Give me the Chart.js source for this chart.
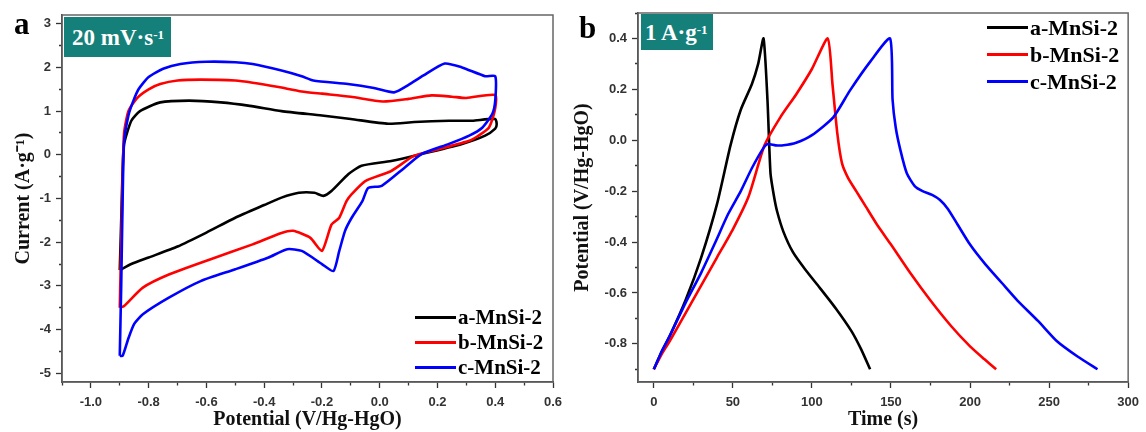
<!DOCTYPE html>
<html>
<head>
<meta charset="utf-8">
<script src="https://cdn.jsdelivr.net/npm/chart.js@4.4.1/dist/chart.umd.min.js"></script>
<style>
  body { margin: 0; background: #fff; }
  #wrap { position: relative; width: 1146px; height: 432px; overflow: hidden; background: #fff; }
  canvas { position: absolute; top: 0; }
  .serif { font-family: 'Liberation Serif', 'Times New Roman', serif; font-weight: bold; position: absolute; }
  .tag { background: #15807a; color: #fff; font-size: 23px; line-height: 1; display: flex; align-items: center; box-sizing: border-box; padding-left: 8px; }
  .tag sup { font-size: 13px; position: relative; top: -3px; }
  .panel { font-size: 31px; line-height: 1; }
  .leg { font-size: 21px; line-height: 1; }
  .leg .row { display: flex; align-items: center; height: 25px; }
  .leg .ln { display: inline-block; width: 41px; height: 3px; margin-right: 2px; }
</style>
</head>
<body>
<div id="wrap">
  <canvas id="cv" width="570" height="432" style="left:0"></canvas>
  <canvas id="gcd" width="576" height="432" style="left:570px"></canvas>

  <div class="serif panel" style="left:14px; top:8px;">a</div>
  <div class="serif panel" style="left:579px; top:12px;">b</div>
  <div class="serif tag" style="left:64px; top:17px; width:107px; height:40px;">20 mV·s<sup>-1</sup></div>
  <div class="serif tag" style="left:641px; top:14px; width:72px; height:36px; padding-left:4px;">1 A·g<sup>-1</sup></div>

  <div class="serif leg" style="left:415px; top:305px;">
    <div class="row"><span class="ln" style="background:#000"></span>a-MnSi-2</div>
    <div class="row"><span class="ln" style="background:#f00"></span>b-MnSi-2</div>
    <div class="row"><span class="ln" style="background:#00f"></span>c-MnSi-2</div>
  </div>
  <div class="serif leg" style="left:987px; top:14px; font-size:22px;">
    <div class="row" style="height:27px"><span class="ln" style="background:#000"></span>a-MnSi-2</div>
    <div class="row" style="height:27px"><span class="ln" style="background:#f00"></span>b-MnSi-2</div>
    <div class="row" style="height:27px"><span class="ln" style="background:#00f"></span>c-MnSi-2</div>
  </div>
</div>
<script>
// --- (a) CV at 20 mV/s : potential (V) / current (A/g), loop order ---
const cvV_a = [-0.9, -0.895, -0.89, -0.885, -0.86, -0.83, -0.76, -0.66, -0.55, -0.45, -0.34, -0.2, -0.1, 0.03, 0.12, 0.24, 0.32, 0.4,
  0.405, 0.4, 0.365, 0.285, 0.146, 0.04, -0.063, -0.108, -0.167, -0.195, -0.226, -0.28, -0.34, -0.4, -0.5, -0.6, -0.7, -0.8, -0.86, -0.9];
const cvI_a = [-2.64, -1.5, -0.3, 0.25, 0.78, 1.0, 1.2, 1.24, 1.2, 1.12, 1.0, 0.9, 0.82, 0.71, 0.75, 0.78, 0.78, 0.82,
  0.7, 0.6, 0.44, 0.25, 0.02, -0.14, -0.25, -0.44, -0.83, -0.94, -0.87, -0.87, -0.98, -1.15, -1.44, -1.78, -2.1, -2.35, -2.5, -2.64];

const cvV_b = [-0.9, -0.895, -0.89, -0.885, -0.87, -0.84, -0.8, -0.76, -0.7, -0.62, -0.5, -0.44, -0.35, -0.27, -0.2, -0.1, 0.01, 0.1, 0.18, 0.25, 0.3, 0.4,
  0.398, 0.378, 0.34, 0.31, 0.205, 0.12, 0.04, -0.05, -0.097, -0.115, -0.14, -0.167, -0.2, -0.24, -0.3, -0.34, -0.44, -0.59, -0.73, -0.82, -0.885, -0.9];
const cvI_b = [-3.5, -2.0, -0.5, 0.5, 1.0, 1.3, 1.5, 1.62, 1.7, 1.72, 1.7, 1.65, 1.55, 1.45, 1.4, 1.33, 1.22, 1.28, 1.36, 1.33, 1.3, 1.37,
  1.0, 0.62, 0.43, 0.32, 0.13, -0.02, -0.37, -0.6, -0.9, -1.06, -1.44, -1.6, -2.2, -1.9, -1.74, -1.79, -2.05, -2.4, -2.74, -3.04, -3.46, -3.5];

const cvV_c = [-0.9, -0.895, -0.89, -0.885, -0.87, -0.855, -0.835, -0.8, -0.75, -0.69, -0.6, -0.5, -0.44, -0.34, -0.27, -0.23, -0.11, -0.02, 0.05, 0.1, 0.15, 0.225, 0.285, 0.365, 0.4,
  0.4, 0.39, 0.355, 0.31, 0.24, 0.146, 0.087, 0.007, -0.04, -0.06, -0.097, -0.12, -0.14, -0.16, -0.2, -0.27, -0.32, -0.385, -0.5, -0.62, -0.73, -0.82, -0.85, -0.87, -0.89, -0.9];
const cvI_c = [-4.6, -3.0, -1.0, 0.3, 0.9, 1.2, 1.5, 1.78, 1.97, 2.08, 2.13, 2.12, 2.08, 1.93, 1.8, 1.7, 1.62, 1.53, 1.43, 1.6, 1.81, 2.09, 2.0, 1.8, 1.8,
  1.24, 0.94, 0.62, 0.44, 0.25, 0.02, -0.29, -0.71, -0.76, -1.06, -1.44, -1.74, -2.2, -2.66, -2.5, -2.2, -2.16, -2.35, -2.62, -2.89, -3.27, -3.65, -3.87, -4.2, -4.6, -4.6];

// --- (b) GCD at 1 A/g : time (s) / potential (V) ---
const gcdT_a = [0, 5, 10, 20, 30, 40, 48.5, 55, 62, 66, 69.4, 71.9, 73.8, 76, 78, 82, 88, 96, 105, 115, 125, 131, 136.8];
const gcdE_a = [-0.9, -0.83, -0.77, -0.63, -0.46, -0.25, -0.02, 0.12, 0.22, 0.3, 0.4, 0.156, -0.13, -0.22, -0.28, -0.36, -0.44, -0.51, -0.58, -0.66, -0.75, -0.82, -0.9];

const gcdT_b = [0, 5, 10, 20, 30, 40, 50, 60, 70, 80, 90, 100, 110, 113, 116, 119, 123, 128, 134, 141, 150, 162, 175, 188, 200, 209, 216.5];
const gcdE_b = [-0.9, -0.84, -0.79, -0.68, -0.57, -0.46, -0.35, -0.22, -0.02, 0.09, 0.18, 0.28, 0.4, 0.22, 0.03, -0.09, -0.15, -0.2, -0.26, -0.33, -0.41, -0.52, -0.63, -0.73, -0.81, -0.86, -0.9];

const gcdT_c = [0, 5, 10, 20, 30, 39, 47, 55, 62, 69.4, 72, 77, 82, 90, 100, 113.5, 124, 137, 149.4,
  151, 153, 156, 160, 165, 170, 176, 181, 186, 192, 200, 210, 220, 230, 243, 255, 268, 280.6];
const gcdE_c = [-0.9, -0.83, -0.77, -0.64, -0.52, -0.4, -0.29, -0.2, -0.11, -0.03, -0.015, -0.02, -0.02, -0.01, 0.02, 0.09, 0.195, 0.31, 0.4,
  0.16, 0.05, -0.04, -0.13, -0.18, -0.2, -0.215, -0.235, -0.27, -0.33, -0.41, -0.49, -0.56, -0.63, -0.71, -0.79, -0.85, -0.9];

const names = ['a-MnSi-2', 'b-MnSi-2', 'c-MnSi-2'];
const colors = ['#000000', '#ff0000', '#0000ff'];

const pts = (xs, ys) => xs.map((x, i) => ({ x: x, y: ys[i] }));

const tickFont = { family: "'Liberation Sans', Arial, sans-serif", size: 13, weight: 'bold' };
const titleFont = { family: "'Liberation Serif', 'Times New Roman', serif", size: 20, weight: 'bold', lineHeight: 1.2 };

// box round the plot area
const frame = {
  id: 'frame',
  afterDatasetsDraw(chart) {
    const a = chart.chartArea;
    const c = chart.ctx;
    c.save();
    c.strokeStyle = '#666';
    c.lineWidth = 1.5;
    c.strokeRect(a.left, a.top, a.right - a.left, a.bottom - a.top);
    c.restore();
  }
};

function makeDatasets(sets) {
  return sets.map((s, i) => ({
    label: names[i],
    data: pts(s[0], s[1]),
    showLine: true,
    borderColor: colors[i],
    backgroundColor: colors[i],
    borderWidth: 2.6,
    pointRadius: 0,
    tension: 0.2,
    order: 3 - i
  }));
}

// minor ticks are drawn shorter with a dash
function axis(opts) {
  const isMajor = v => Math.abs(v / opts.major - Math.round(v / opts.major)) < 1e-6;
  return {
    type: 'linear',
    min: opts.min,
    max: opts.max,
    afterFit: s => { if (opts.width) s.width = opts.width; if (opts.height) s.height = opts.height; },
    border: { display: true, color: '#333', width: 1.5 },
    grid: {
      drawOnChartArea: false,
      drawTicks: true,
      tickLength: 6,
      tickColor: '#333',
      tickWidth: 1.3,
      tickBorderDash: ctx => (ctx.tick && !isMajor(ctx.tick.value)) ? opts.minorDash : []
    },
    ticks: {
      stepSize: opts.step,
      includeBounds: false,
      autoSkip: false,
      maxRotation: 0,
      padding: opts.pad,
      color: '#333',
      font: tickFont,
      callback: v => isMajor(v) ? opts.fmt(v) : ''
    },
    title: {
      display: true,
      text: opts.title,
      color: '#111',
      font: titleFont,
      padding: opts.titlePad
    }
  };
}

Chart.defaults.devicePixelRatio = 1;

new Chart(document.getElementById('cv'), {
  type: 'scatter',
  data: { datasets: makeDatasets([[cvV_a, cvI_a], [cvV_b, cvI_b], [cvV_c, cvI_c]]) },
  options: {
    responsive: false,
    animation: false,
    layout: { padding: { top: 15, right: 17, left: 0, bottom: 0 } },
    plugins: { legend: { display: false }, tooltip: { enabled: false } },
    scales: {
      x: axis({ min: -1.1, max: 0.6, step: 0.1, major: 0.2, height: 50, pad: 7, minorDash: [3, 100],
        fmt: v => v.toFixed(1), title: 'Potential (V/Hg-HgO)', titlePad: { top: 0, bottom: 0 } }),
      y: axis({ min: -5.2, max: 3.2, step: 0.5, major: 1, width: 62, pad: 5, minorDash: [0, 3, 3, 100],
        fmt: v => String(Math.round(v)), title: 'Current (A·g⁻¹)', titlePad: { top: 12, bottom: 0 } })
    }
  },
  plugins: [frame]
});

new Chart(document.getElementById('gcd'), {
  type: 'scatter',
  data: { datasets: makeDatasets([[gcdT_a, gcdE_a], [gcdT_b, gcdE_b], [gcdT_c, gcdE_c]]) },
  options: {
    responsive: false,
    animation: false,
    layout: { padding: { top: 13, right: 16, left: 0, bottom: 0 } },
    plugins: { legend: { display: false }, tooltip: { enabled: false } },
    scales: {
      x: axis({ min: -10, max: 300, step: 25, major: 50, height: 50, pad: 7, minorDash: [3, 100],
        fmt: v => String(Math.round(v)), title: 'Time (s)', titlePad: { top: 0, bottom: 0 } }),
      y: axis({ min: -0.95, max: 0.5, step: 0.1, major: 0.2, width: 68, pad: 5, minorDash: [0, 3, 3, 100],
        fmt: v => v.toFixed(1), title: 'Potential (V/Hg-HgO)', titlePad: { top: 1, bottom: 0 } })
    }
  },
  plugins: [frame]
});
</script>
</body>
</html>
